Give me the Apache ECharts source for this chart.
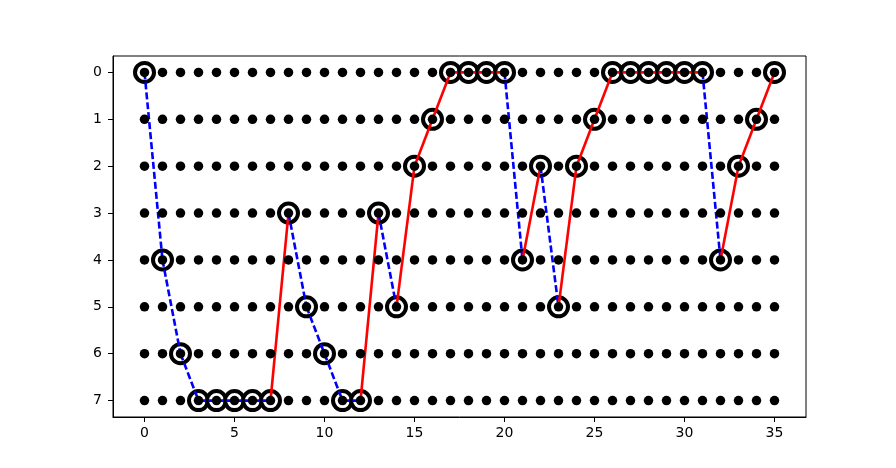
<!DOCTYPE html>
<html><head><meta charset="utf-8">
<script src="https://cdn.jsdelivr.net/npm/echarts@6/dist/echarts.min.js"></script>
<style>html,body{margin:0;padding:0;background:#fff}#c{width:896px;height:468px}</style>
</head><body><div id="c"></div>
<script>
// grid of states
const steps = Array.from({length: 36}, (_, i) => i);      // 0..35
const states = [0, 1, 2, 3, 4, 5, 6, 7];
// path state at each step
const path = [0, 4, 6, 7, 7, 7, 7, 7, 3, 5, 6, 7, 7, 3, 5, 2, 1, 0, 0, 0, 0, 4, 2, 5, 2, 1, 0, 0, 0, 0, 0, 0, 4, 2, 1, 0];
const xTicks = [0, 5, 10, 15, 20, 25, 30, 35];
const yTicks = [0, 1, 2, 3, 4, 5, 6, 7];

const gridPts = [];
steps.forEach(x => states.forEach(y => gridPts.push([x, y])));
const pathPts = path.map((y, x) => [x, y]);

const RED = '#ff0000', BLUE = '#0000ff';
const segSeries = [];
let lastColor = BLUE;
for (let i = 0; i < path.length - 1; i++) {
  const a = path[i], b = path[i + 1];
  let color, type;
  if (b > a) { color = BLUE; type = [7, 3]; lastColor = BLUE; }
  else if (b < a) { color = RED; type = 'solid'; lastColor = RED; }
  else { color = lastColor; type = [7, 3]; }
  segSeries.push({
    type: 'line', data: [[i, a], [i + 1, b]], symbol: 'none', silent: true,
    lineStyle: { color, width: 2.6, type, cap: 'butt' }, z: 3, animation: false
  });
}

const chart = echarts.init(document.getElementById('c'), null, {renderer: 'canvas'});
const font = {fontFamily: 'DejaVu Sans', fontSize: 14, color: '#000'};
chart.setOption({
  animation: false,
  grid: {left: 113, right: 90, top: 56, bottom: 51, show: true, borderColor: '#000', borderWidth: 1, backgroundColor: 'transparent'},
  xAxis: {
    type: 'value', min: -1.75, max: 36.75,
    axisLine: {show: true, onZero: false, lineStyle: {color: '#000', width: 1}},
    axisTick: {show: true, customValues: xTicks, length: 5, lineStyle: {color: '#000'}},
    axisLabel: {customValues: xTicks, margin: 9, ...font},
    splitLine: {show: false}
  },
  yAxis: {
    type: 'value', inverse: true, min: -0.35, max: 7.35,
    axisLine: {show: true, onZero: false, lineStyle: {color: '#000', width: 1}},
    axisTick: {show: true, customValues: yTicks, length: 5, lineStyle: {color: '#000'}},
    axisLabel: {customValues: yTicks, margin: 11, ...font},
    splitLine: {show: false}
  },
  series: [
    {type: 'scatter', data: pathPts, symbol: 'circle', symbolSize: 19, silent: true,
     itemStyle: {color: '#fff', borderColor: '#000', borderWidth: 4, opacity: 1}, z: 2},
    ...segSeries,
    {type: 'scatter', data: gridPts, symbol: 'circle', symbolSize: 9.5, silent: true,
     itemStyle: {color: '#000', opacity: 1}, z: 4}
  ]
});
</script></body></html>
